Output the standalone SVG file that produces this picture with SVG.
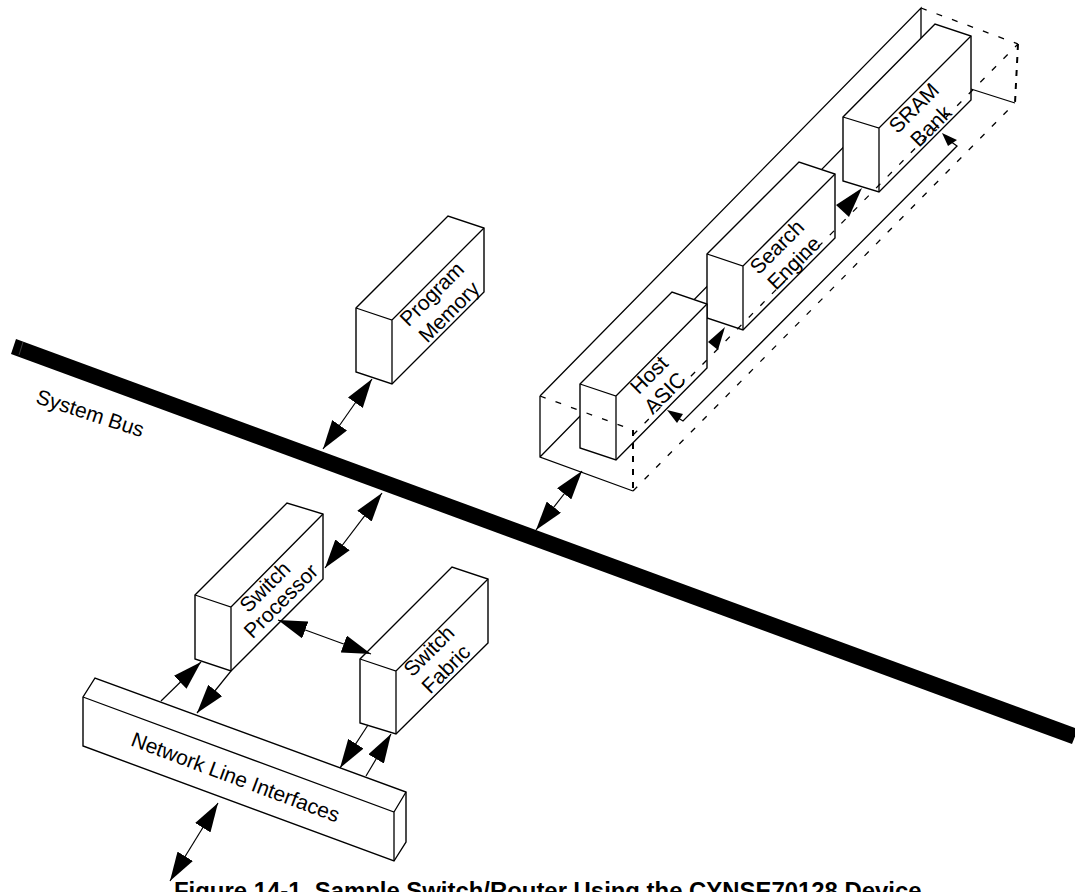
<svg xmlns="http://www.w3.org/2000/svg" width="1075" height="892" viewBox="0 0 1075 892">
<style>
.b{fill:#fff;stroke:#000;stroke-width:1.4;stroke-linejoin:miter}
.f{fill:none;stroke:#000;stroke-width:1.3}
.d{fill:none;stroke:#000;stroke-width:1.3;stroke-dasharray:6 10.5}
.v{fill:none;stroke:#000;stroke-width:2;stroke-dasharray:6 7}
.a{fill:none;stroke:#000;stroke-width:1.2;marker-start:url(#h);marker-end:url(#h)}
.e{fill:none;stroke:#000;stroke-width:1.2;marker-end:url(#h)}
.t{font-family:"Liberation Sans",Arial,sans-serif;font-size:21px;text-anchor:middle;fill:#000}
</style>
<defs>
<marker id="h" viewBox="0 0 29 18" refX="29" refY="9" markerWidth="29" markerHeight="18" markerUnits="userSpaceOnUse" orient="auto-start-reverse"><path d="M0 0L29 9L0 18Z" fill="#000"/></marker>
</defs>
<polygon id="system-bus" points="16,339 1078,729 1072,744 11,354" fill="#000"/>
<path d="M23,342L19,355" stroke="#666" stroke-width="0.6" fill="none"/>
<text class="t" transform="translate(88,420) rotate(18)">System Bus</text>
<g id="host-frame">
<path class="f" d="M540,396V457L633,491M540,457L921,68M540,396L921,8V70M971,89L1015,103"/>
</g>
<g id="sram-bank">
<path class="b" d="M843,117L935,24L971,36V100L879,192L843,181Z"/>
<path class="f" d="M843,117L879,128L971,36M879,128V192"/>
<text class="t" transform="translate(919,113) rotate(-45)">SRAM</text>
<text class="t" transform="translate(936,131) rotate(-45)">Bank</text>
</g>
<g id="search-engine">
<path class="b" d="M707,254L799,162L835,174V238L743,330L707,318Z"/>
<path class="f" d="M707,254L743,266L835,174M743,266V330"/>
<text class="t" transform="translate(782,252) rotate(-45)">Search</text>
<text class="t" transform="translate(799,268) rotate(-45)">Engine</text>
</g>
<g id="host-asic">
<path class="b" d="M580,384L672,292L707,304V368L616,460L580,448Z"/>
<path class="f" d="M580,384L616,396L707,304M616,396V460"/>
<text class="t" transform="translate(654,380) rotate(-45)">Host</text>
<text class="t" transform="translate(670,398) rotate(-45)">ASIC</text>
</g>
<g id="program-memory">
<path class="b" d="M356,308L448,216L484,228V292L392,384L356,372Z"/>
<path class="f" d="M356,308L392,320L484,228M392,320V384"/>
<text class="t" transform="translate(437,299) rotate(-45)">Program</text>
<text class="t" transform="translate(454,317) rotate(-45)">Memory</text>
</g>
<g id="switch-processor">
<path class="b" d="M195,595L287,503L323,514V579L231,671L195,659Z"/>
<path class="f" d="M195,595L231,607L323,514M231,607V671"/>
<text class="t" transform="translate(270,592) rotate(-45)">Switch</text>
<text class="t" transform="translate(286,606) rotate(-45)">Processor</text>
</g>
<g id="switch-fabric">
<path class="b" d="M360,659L452,567L488,579V643L396,734L360,723Z"/>
<path class="f" d="M360,659L396,671L488,579M396,671V734"/>
<text class="t" transform="translate(434,656) rotate(-45)">Switch</text>
<text class="t" transform="translate(451,674) rotate(-45)">Fabric</text>
</g>
<g id="network-line-interfaces">
<path class="b" d="M83,697L95,678L406,792V842L394,861L83,746Z"/>
<path class="f" d="M83,697L394,812L406,792M394,812V861"/>
<text class="t" transform="translate(233,784) rotate(20.5)">Network Line Interfaces</text>
</g>
<g id="connectors">
<path class="d" d="M540,396L633,430M633,491L1015,103M633,435L1018,44M921,8L1018,44"/>
<path class="v" d="M633,430V491M1018,44L1015,103"/>
<path class="a" d="M323,449L372,379"/>
<path class="a" d="M382,493L325,568"/>
<path class="a" d="M278,620L371,654"/>
<path class="e" d="M161,701L201,662"/>
<path class="e" d="M231,671L197,713"/>
<path class="e" d="M368,725L340,768"/>
<path class="e" d="M366,776L391,734"/>
<path class="a" d="M218,803L170,881"/>
<path class="a" d="M582,471L536,530"/>
<polygon points="725,327 708,342 718,350" fill="#000"/>
<polygon points="862,188 836,205 849,217" fill="#000"/>
<path class="f" d="M950,141L957,146L683,421L675,416"/>
<polygon points="942,133 957,140 948,146" fill="#000"/>
<polygon points="667,410 683,414 677,423" fill="#000"/>
</g>
<text transform="translate(174,899)" font-family="Liberation Sans, Arial, sans-serif" font-size="23.9" font-weight="bold">Figure 14-1. Sample Switch/Router Using the CYNSE70128 Device</text>
</svg>
